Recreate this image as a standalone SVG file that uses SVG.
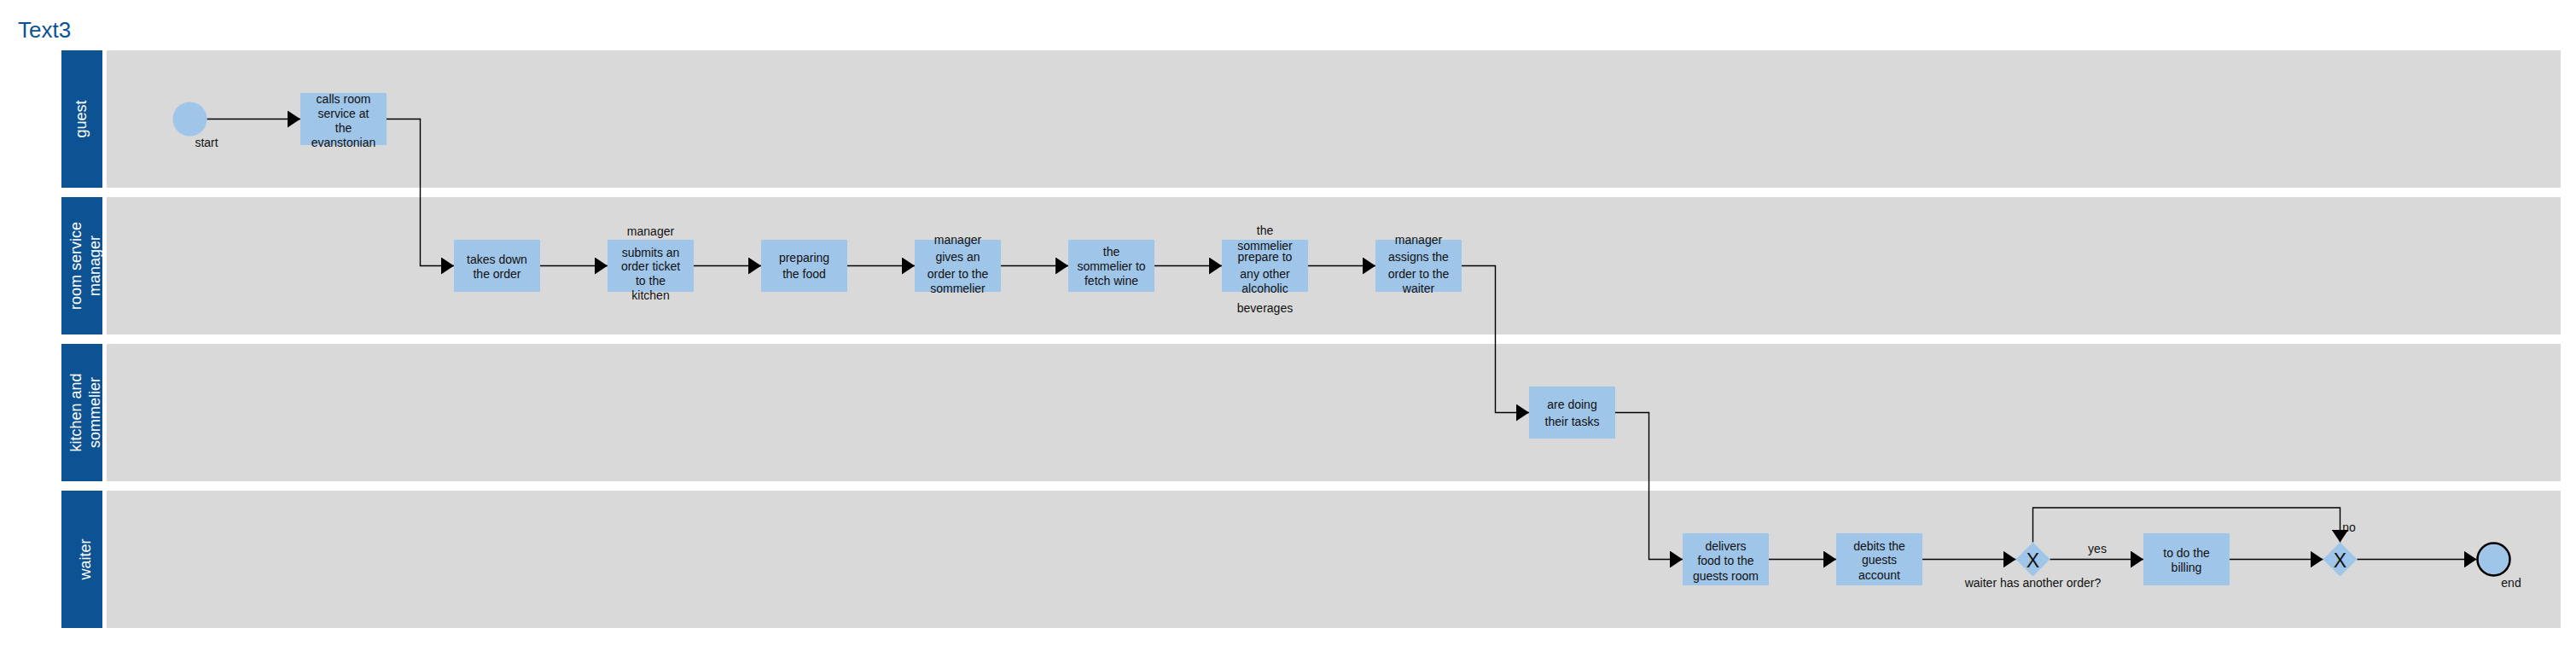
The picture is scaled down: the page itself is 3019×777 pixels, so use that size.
<svg xmlns="http://www.w3.org/2000/svg" width="3019" height="777" viewBox="0 0 3019 777">
<style>
.lane{fill:#d9d9d9}
.hdr{fill:#0d5394}
.hdrt{fill:#ffffff;font-family:"Liberation Sans",Arial,sans-serif;font-size:18px;text-anchor:middle}
.task{fill:#9fc5e8}
.t{fill:#111111;font-family:"Liberation Sans",Arial,sans-serif;font-size:14px;text-anchor:middle}
.gx{fill:#111111;font-family:"Liberation Sans",Arial,sans-serif;font-size:23px;text-anchor:middle}
.gw{fill:#9fc5e8}
.c{fill:none;stroke:#000000;stroke-width:1.4;marker-end:url(#arr)}
</style>
<defs>
<marker id="arr" markerUnits="userSpaceOnUse" markerWidth="16" markerHeight="20" refX="15" refY="10" orient="auto" viewBox="0 0 16 20">
<path d="M0,0 L15,10 L0,20 Z" fill="#000000"/>
</marker>
</defs>
<rect width="3019" height="777" fill="#ffffff"/>
<text x="21" y="44" style="fill:#0d5394;font-family:'Liberation Sans',Arial,sans-serif;font-size:26px">Text3</text>

<g id="lane-guest">
<rect class="hdr" x="72" y="59" width="48" height="161"/>
<rect class="lane" x="125" y="59" width="2876" height="161"/>
<text class="hdrt" transform="translate(101,139.5) rotate(-90)">guest</text>
</g>
<g id="lane-rsm">
<rect class="hdr" x="72" y="231" width="48" height="161"/>
<rect class="lane" x="125" y="231" width="2876" height="161"/>
<text class="hdrt" transform="translate(95,311.5) rotate(-90)">room service</text>
<text class="hdrt" transform="translate(117,311.5) rotate(-90)">manager</text>
</g>
<g id="lane-kitchen">
<rect class="hdr" x="72" y="403" width="48" height="161"/>
<rect class="lane" x="125" y="403" width="2876" height="161"/>
<text class="hdrt" transform="translate(95,483.5) rotate(-90)">kitchen and</text>
<text class="hdrt" transform="translate(117,483.5) rotate(-90)">sommelier</text>
</g>
<g id="lane-waiter">
<rect class="hdr" x="72" y="575" width="48" height="161"/>
<rect class="lane" x="125" y="575" width="2876" height="161"/>
<text class="hdrt" transform="translate(106,655.5) rotate(-90)">waiter</text>
</g>

<g id="connectors">
<path class="c" d="M242.5,139.5 H352"/>
<path class="c" d="M453,139.5 H492.5 V311.5 H532"/>
<path class="c" d="M633,311.5 H712"/>
<path class="c" d="M813,311.5 H892"/>
<path class="c" d="M993,311.5 H1072"/>
<path class="c" d="M1173,311.5 H1252"/>
<path class="c" d="M1353,311.5 H1432"/>
<path class="c" d="M1533,311.5 H1612"/>
<path class="c" d="M1713,311.5 H1752.5 V483.5 H1792"/>
<path class="c" d="M1893,483.5 H1932.5 V655.5 H1972"/>
<path class="c" d="M2073,655.5 H2152"/>
<path class="c" d="M2253,655.5 H2362.5"/>
<path class="c" d="M2402.5,655.5 H2512"/>
<path class="c" d="M2382.5,635.5 V595 H2742.5 V635.5"/>
<path class="c" d="M2613,655.5 H2722.5"/>
<path class="c" d="M2762.5,655.5 H2902.5"/>
<text class="t" x="2458" y="648">yes</text>
<text class="t" x="2753" y="623">no</text>
</g>

<g id="start">
<circle cx="222.5" cy="139.5" r="20" fill="#9fc5e8"/>
<text class="t" x="242" y="172">start</text>
</g>
<g id="calls-room-service">
<rect class="task" x="352" y="109" width="101" height="61"/>
<text class="t" x="402.5" y="120.5">calls room</text>
<text class="t" x="402.5" y="137.5">service at</text>
<text class="t" x="402.5" y="154.5">the</text>
<text class="t" x="402.5" y="171.5">evanstonian</text>
</g>
<g id="takes-down-order">
<rect class="task" x="532" y="281" width="101" height="61"/>
<text class="t" x="582.5" y="308.5">takes down</text>
<text class="t" x="582.5" y="326">the order</text>
</g>
<g id="submits-order-ticket">
<rect class="task" x="712" y="281" width="101" height="61"/>
<text class="t" x="762.5" y="276">manager</text>
<text class="t" x="762.5" y="300.5">submits an</text>
<text class="t" x="762.5" y="317">order ticket</text>
<text class="t" x="762.5" y="334">to the</text>
<text class="t" x="762.5" y="351">kitchen</text>
</g>
<g id="preparing-food">
<rect class="task" x="892" y="281" width="101" height="61"/>
<text class="t" x="942.5" y="306.5">preparing</text>
<text class="t" x="942.5" y="326">the food</text>
</g>
<g id="gives-order-sommelier">
<rect class="task" x="1072" y="281" width="101" height="61"/>
<text class="t" x="1122.5" y="286">manager</text>
<text class="t" x="1122.5" y="306">gives an</text>
<text class="t" x="1122.5" y="326">order to the</text>
<text class="t" x="1122.5" y="342.5">sommelier</text>
</g>
<g id="fetch-wine">
<rect class="task" x="1252" y="281" width="101" height="61"/>
<text class="t" x="1302.5" y="300">the</text>
<text class="t" x="1302.5" y="316.5">sommelier to</text>
<text class="t" x="1302.5" y="334">fetch wine</text>
</g>
<g id="prepare-beverages">
<rect class="task" x="1432" y="281" width="101" height="61"/>
<text class="t" x="1482.5" y="275">the</text>
<text class="t" x="1482.5" y="292.5">sommelier</text>
<text class="t" x="1482.5" y="306">prepare to</text>
<text class="t" x="1482.5" y="326">any other</text>
<text class="t" x="1482.5" y="342.5">alcoholic</text>
<text class="t" x="1482.5" y="366">beverages</text>
</g>
<g id="assigns-order-waiter">
<rect class="task" x="1612" y="281" width="101" height="61"/>
<text class="t" x="1662.5" y="286">manager</text>
<text class="t" x="1662.5" y="306">assigns the</text>
<text class="t" x="1662.5" y="326">order to the</text>
<text class="t" x="1662.5" y="342.5">waiter</text>
</g>
<g id="doing-tasks">
<rect class="task" x="1792" y="453" width="101" height="61"/>
<text class="t" x="1842.5" y="478.5">are doing</text>
<text class="t" x="1842.5" y="498.5">their tasks</text>
</g>
<g id="delivers-food">
<rect class="task" x="1972" y="625" width="101" height="61"/>
<text class="t" x="2022.5" y="644.5">delivers</text>
<text class="t" x="2022.5" y="661.5">food to the</text>
<text class="t" x="2022.5" y="680">guests room</text>
</g>
<g id="debits-account">
<rect class="task" x="2152" y="625" width="101" height="61"/>
<text class="t" x="2202.5" y="644.5">debits the</text>
<text class="t" x="2202.5" y="660.5">guests</text>
<text class="t" x="2202.5" y="678.5">account</text>
</g>
<g id="gateway-another-order">
<path class="gw" d="M2382.5,635.5 L2402.5,655.5 L2382.5,675.5 L2362.5,655.5 Z"/>
<text class="gx" x="2382.5" y="664.5">X</text>
<text class="t" x="2382.5" y="687.5">waiter has another order?</text>
</g>
<g id="billing">
<rect class="task" x="2512" y="625" width="101" height="61"/>
<text class="t" x="2562.5" y="653">to do the</text>
<text class="t" x="2562.5" y="669.5">billing</text>
</g>
<g id="gateway-merge">
<path class="gw" d="M2742.5,635.5 L2762.5,655.5 L2742.5,675.5 L2722.5,655.5 Z"/>
<text class="gx" x="2742.5" y="664.5">X</text>
</g>
<g id="end">
<circle cx="2922.5" cy="655.5" r="19" fill="#9fc5e8" stroke="#000000" stroke-width="2.5"/>
<text class="t" x="2943" y="688">end</text>
</g>
</svg>
